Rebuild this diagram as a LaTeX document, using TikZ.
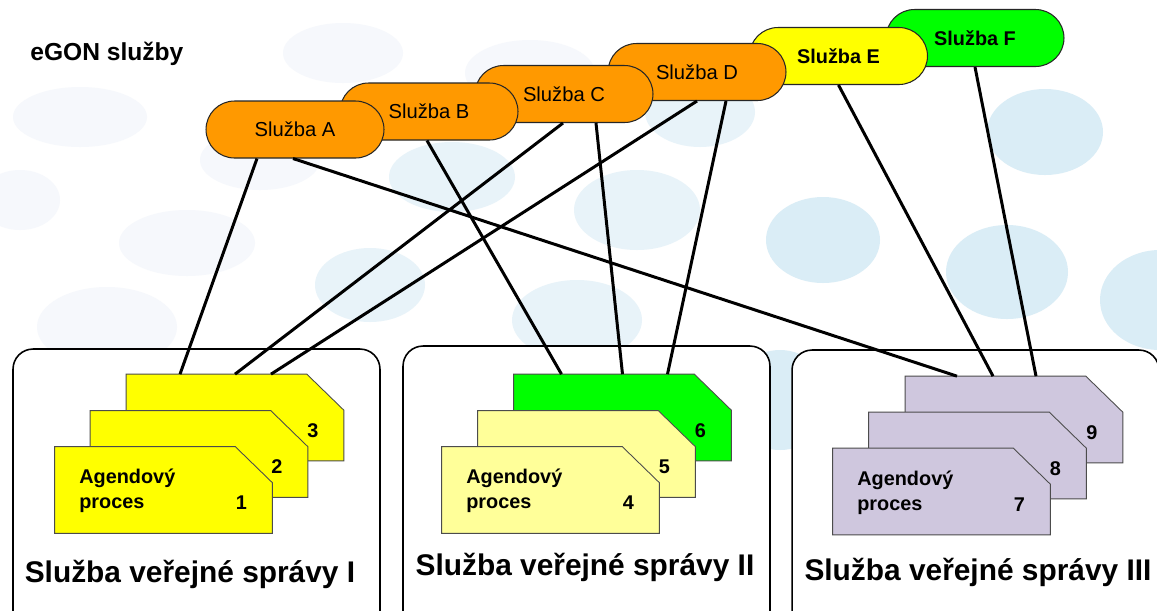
\documentclass[tikz,border=0pt]{standalone}
\usepackage{fontspec}
\setmainfont{Liberation Sans}
\usetikzlibrary{calc}

\definecolor{oranz}{RGB}{255,153,0}
\definecolor{zluta}{RGB}{255,255,0}
\definecolor{zelena}{RGB}{0,255,0}
\definecolor{svzluta}{RGB}{255,255,153}
\definecolor{fialova}{RGB}{207,199,222}
\definecolor{bublina}{RGB}{218,237,246}
\definecolor{bublinasv}{RGB}{232,243,249}
\definecolor{bublinaxx}{RGB}{246,248,252}

\tikzset{
  sluzba/.style={rectangle, rounded corners=0.57cm, draw=black!85, line width=0.6pt, minimum width=3.56cm, minimum height=1.14cm, inner sep=0pt, font=\fontsize{11.5}{13}\selectfont},
  agenda/.style={rectangle, minimum width=4.34cm, minimum height=1.72cm, inner sep=0pt},
  list/.style={draw=black!70, line width=0.5pt},
  urad/.style={rectangle, rounded corners=0.4cm, draw, line width=0.9pt, fill=white, minimum width=7.34cm, minimum height=5.8cm},
  spoj/.style={line width=1.7pt},
  popis/.style={font=\bfseries\fontsize{11.3}{14.2}\selectfont, inner sep=0pt, align=left, anchor=west},
  cislo/.style={font=\bfseries\fontsize{11.3}{14}\selectfont, inner sep=0pt},
  nazev/.style={font=\bfseries\fontsize{17}{20}\selectfont, inner sep=0pt, anchor=base}
}

\begin{document}
\begin{tikzpicture}[x=0.02cm, y=-0.02cm]
\useasboundingbox (0,0) rectangle (1157,610);
\clip (0,0) rectangle (1157,610);
\fill[white] (0,0) rectangle (1157,610);

% bubliny v pozadi
\fill[bublinaxx] (20,200) ellipse (40 and 30);
\fill[bublinaxx] (80,117) ellipse (67 and 30);
\fill[bublinaxx] (187,243) ellipse (68 and 33);
\fill[bublinaxx] (107,327) ellipse (70 and 40);
\fill[bublinaxx] (260,160) ellipse (60 and 30);
\fill[bublinaxx] (343,53) ellipse (60 and 30);
\fill[bublinaxx] (530,73) ellipse (65 and 33);
\fill[bublinasv] (700,112) ellipse (55 and 35);
\fill[bublinasv] (452,177) ellipse (63 and 35);
\fill[bublinasv] (370,285) ellipse (55 and 37);
\fill[bublinasv] (637,210) ellipse (63 and 40);
\fill[bublinasv] (577,320) ellipse (65 and 40);
\fill[bublina] (1045,132) ellipse (58 and 43);
\fill[bublina] (823,240) ellipse (57 and 43);
\fill[bublina] (1007,272) ellipse (61 and 47);
\fill[bublina] (1160,300) ellipse (60 and 50);
\fill[bublina] (780,400) ellipse (50 and 50);

% sluzby verejne spravy
\node at (196.5,494) [urad] (bI) {};
\node at (586.5,491) [urad] (bII) {};
\node at (975.5,495) [urad] (bIII) {};

\node at (190,582) [nazev] (lI) {Služba veřejné správy I};
\node at (585,575) [nazev] (lII) {Služba veřejné správy II};
\node at (978,580) [nazev] (lIII) {Služba veřejné správy III};

% agendove procesy
\node at (235,417.5) [agenda] (d3) {};
\node at (199,454) [agenda] (d2) {};
\node at (163.5,490) [agenda] (d1) {};
\node at (622.5,417.5) [agenda] (d6) {};
\node at (586.5,454) [agenda] (d5) {};
\node at (550.5,490) [agenda] (d4) {};
\node at (1014,419.5) [agenda] (d9) {};
\node at (977.5,455.5) [agenda] (d8) {};
\node at (941.5,491.5) [agenda] (d7) {};

\foreach \d/\barva in {d3/zluta, d2/zluta, d1/zluta, d6/zelena, d5/svzluta, d4/svzluta, d9/fialova, d8/fialova, d7/fialova}
  \filldraw[list, fill=\barva] (\d.south west) -- (\d.north west) -- ($(\d.north east)+(-37,0)$) -- ($(\d.north east)+(0,36)$) -- (\d.south east) -- cycle;

\node at ($(d1.center)+(-84.5,1)$) [popis] (t1) {Agendový\\proces};
\node at ($(d4.center)+(-84.5,1)$) [popis] (t4) {Agendový\\proces};
\node at ($(d7.center)+(-84.5,1)$) [popis] (t7) {Agendový\\proces};

\node at ($(d1.center)+(78,13)$) [cislo] (n1) {1};
\node at ($(d2.center)+(78,13)$) [cislo] (n2) {2};
\node at ($(d3.center)+(78,13)$) [cislo] (n3) {3};
\node at ($(d4.center)+(78,13)$) [cislo] (n4) {4};
\node at ($(d5.center)+(78,13)$) [cislo] (n5) {5};
\node at ($(d6.center)+(78,13)$) [cislo] (n6) {6};
\node at ($(d7.center)+(78,13)$) [cislo] (n7) {7};
\node at ($(d8.center)+(78,13)$) [cislo] (n8) {8};
\node at ($(d9.center)+(78,13)$) [cislo] (n9) {9};

% eGON sluzby
\node at (30,60) [anchor=base west, inner sep=0pt, font=\bfseries\fontsize{14}{16}\selectfont] (nadpis) {eGON služby};

\node at (975,38) [sluzba, fill=zelena, font=\bfseries\fontsize{11.3}{13}\selectfont] (sF) {Služba F};
\node at (838.5,56) [sluzba, fill=zluta, font=\bfseries\fontsize{11.3}{13}\selectfont] (sE) {Služba E};
\node at (697,72) [sluzba, fill=oranz] (sD) {Služba D};
\node at (564,94) [sluzba, fill=oranz] (sC) {Služba C};
\node at (429,111.5) [sluzba, fill=oranz] (sB) {Služba B};
\node at (295,129.5) [sluzba, fill=oranz] (sA) {Služba A};

\draw[spoj] ($(sA.south)+(-38,0)$) -- ($(d3.north)+(-55,0)$);
\draw[spoj] ($(sA.south)+(-2,0)$) -- ($(d9.north)+(-57,0)$);
\draw[spoj] ($(sB.south)+(-2,0)$) -- ($(d6.north)+(-61,0)$);
\draw[spoj] ($(sC.south)+(-1,0)$) -- (d3.north);
\draw[spoj] ($(sC.south)+(32,0)$) -- (d6.north);
\draw[spoj] (sD.south) -- ($(d3.north)+(36,0)$);
\draw[spoj] ($(sD.south)+(29,0)$) -- ($(d6.north)+(45,0)$);
\draw[spoj] (sE.south) -- ($(d9.north)+(-21,0)$);
\draw[spoj] (sF.south) -- ($(d9.north)+(22,0)$);
\end{tikzpicture}
\end{document}
